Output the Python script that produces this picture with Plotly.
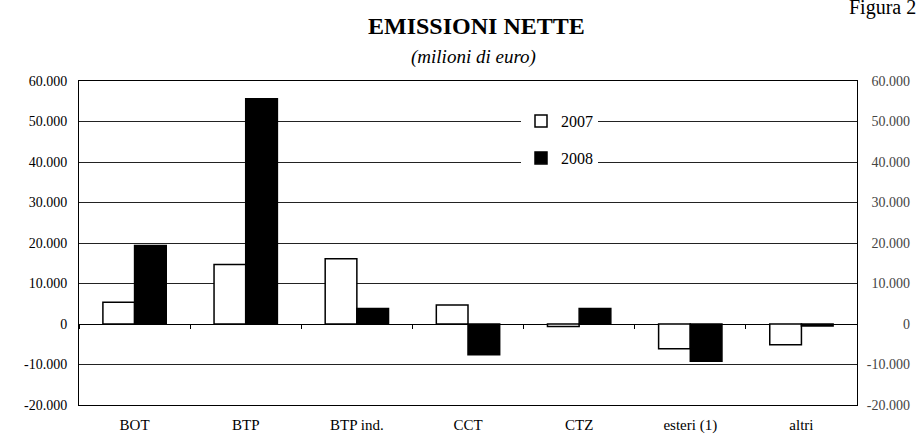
import plotly.graph_objects as go

categories = ["BOT", "BTP", "BTP ind.", "CCT", "CTZ", "esteri (1)", "altri"]
emissioni_2007 = [5400, 14700, 16100, 4700, -600, -6100, -5100]
emissioni_2008 = [19400, 55600, 3800, -7600, 3800, -9200, -500]

y_ticks = [-20000, -10000, 0, 10000, 20000, 30000, 40000, 50000, 60000]
y_labels = ["-20.000", "-10.000", "0", "10.000", "20.000", "30.000", "40.000", "50.000", "60.000"]

SERIF = "Liberation Serif"

fig = go.Figure()
fig.add_trace(go.Bar(
    x=categories, y=emissioni_2007, name="2007",
    marker=dict(color="white", line=dict(color="black", width=1.5)),
    legend="legend",
))
fig.add_trace(go.Bar(
    x=categories, y=emissioni_2008, name="2008",
    marker=dict(color="black", line=dict(color="black", width=1.5)),
    legend="legend2",
))
# invisible copy so the right axis and the zero-line ticks are drawn
fig.add_trace(go.Bar(
    x=categories, y=emissioni_2007, xaxis="x2", yaxis="y2",
    opacity=0, showlegend=False, hoverinfo="skip",
))

# plot area in pixels: x 79..857, y 81..405 ; paper spans x 79..913, y 71..415
PL, PR, PT, PB = 79, 913, 71, 415
yrange = [-20000, 60000]


def px(x):
    return (x - PL) / (PR - PL)


def py(y):
    return (PB - y) / (PB - PT)


ydom = [py(405), py(81)]
per_px = (yrange[1] - yrange[0]) / (405 - 81)
yrange2 = [yrange[0] - (PB - 405) * per_px, yrange[1] + (81 - PT) * per_px]
xdom = [0, px(857)]
zero_pos = ydom[0] + (0 - yrange[0]) / (yrange[1] - yrange[0]) * (ydom[1] - ydom[0])

fig.update_layout(
    width=917, height=435,
    margin=dict(l=PL, r=917 - PR, t=PT, b=435 - PB),
    paper_bgcolor="white", plot_bgcolor="rgba(0,0,0,0)",
    font=dict(family=SERIF, size=14, color="black"),
    barmode="group", bargap=0.43, bargroupgap=0,
    showlegend=True,
    xaxis=dict(
        domain=xdom,
        showline=True, linecolor="black", linewidth=1, mirror=True,
        ticks="", showgrid=False, ticklabelstandoff=6, automargin=False,
        tickfont=dict(size=15),
    ),
    xaxis2=dict(
        domain=xdom,
        type="category", categoryarray=categories, range=[-0.5, 6.5],
        anchor="free", position=zero_pos,
        tickson="boundaries", ticks="outside", ticklen=4, tickcolor="black",
        showticklabels=False, showline=False, showgrid=False, zeroline=False,
        automargin=False,
    ),
    yaxis=dict(
        domain=ydom,
        range=yrange, tickvals=y_ticks, ticktext=y_labels,
        showgrid=True, gridcolor="#222222", gridwidth=1,
        zeroline=True, zerolinecolor="black", zerolinewidth=1,
        showline=True, linecolor="black", linewidth=1, mirror=True,
        ticks="", ticklabelstandoff=8, automargin=False,
    ),
    yaxis2=dict(
        domain=[0, 1],
        range=yrange2, tickvals=y_ticks, ticktext=y_labels,
        side="right", anchor="free", position=1,
        ticklabelposition="inside", showgrid=False, zeroline=False,
        showline=False, ticks="", ticklabelstandoff=0, automargin=False,
    ),
    legend=dict(
        x=px(521), y=py(104), xanchor="left", yanchor="top",
        bgcolor="white", font=dict(size=16), itemwidth=30,
        tracegroupgap=0,
    ),
    legend2=dict(
        x=px(521), y=py(141), xanchor="left", yanchor="top",
        bgcolor="white", font=dict(size=16), itemwidth=30,
    ),
    annotations=[
        dict(text="<b>EMISSIONI NETTE</b>", xref="paper", yref="paper",
             x=px(476), y=py(26), xanchor="center", yanchor="middle",
             showarrow=False, font=dict(family=SERIF, size=24)),
        dict(text="<i>(milioni di euro)</i>", xref="paper", yref="paper",
             x=px(473), y=py(57), xanchor="center", yanchor="middle",
             showarrow=False, font=dict(family=SERIF, size=19)),
        dict(text="Figura 2", xref="paper", yref="paper",
             x=px(847), y=py(8), xanchor="left", yanchor="middle",
             showarrow=False, font=dict(family=SERIF, size=20)),
    ],
)

fig.write_html("out.html", config={"displayModeBar": False},
               post_script="document.body.style.margin='0';")
